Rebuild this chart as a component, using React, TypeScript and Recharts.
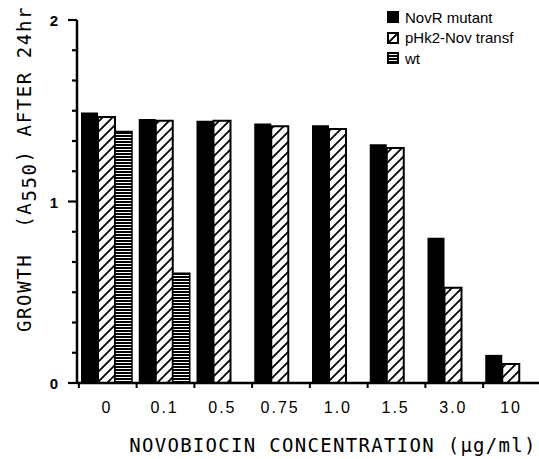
import { BarChart, Bar, XAxis, YAxis, Legend } from 'recharts'

// novobiocin concentration (µg/ml)
const categories = ['0', '0.1', '0.5', '0.75', '1.0', '1.5', '3.0', '10']
// growth, A550 after 24 hr
const novrMutant = [1.49, 1.455, 1.445, 1.43, 1.42, 1.315, 0.8, 0.155]
const pHk2Transf = [1.465, 1.445, 1.445, 1.415, 1.4, 1.295, 0.525, 0.105]
const wildType = [1.385, 0.605, null, null, null, null, null, null]

const yTicks = [0, 0.1667, 0.3333, 0.5, 0.6667, 0.8333, 1, 1.1667, 1.3333, 1.5, 1.6667, 1.8333, 2]
const seriesNames = ['NovR mutant', 'pHk2-Nov transf', 'wt']

const data = categories.map((name, i) => ({
  name,
  novr: novrMutant[i],
  phk2: pHk2Transf[i],
  wt: wildType[i],
}))

const MONO = '"DejaVu Sans Mono", monospace'
const SANS = '"Liberation Sans", Arial, sans-serif'

function Patterns() {
  return (
    <svg width={0} height={0} style={{ position: 'absolute' }}>
      <defs>
        <pattern id="hatch" patternUnits="userSpaceOnUse" width={10} height={10}>
          <rect width={10} height={10} fill="#fff" />
          <path d="M0,10 L10,0 M-1,1 L1,-1 M9,11 L11,9" stroke="#000" strokeWidth={1.8} />
        </pattern>
        <pattern id="stripes" patternUnits="userSpaceOnUse" width={6} height={3}>
          <rect width={6} height={3} fill="#fff" />
          <rect width={6} height={2} fill="#000" />
        </pattern>
      </defs>
    </svg>
  )
}

function YTick({ x, y, payload }: any) {
  const v = payload.value
  const major = Math.abs(v - Math.round(v)) < 0.01
  return (
    <g>
      <line x1={x - (major ? 9 : 5)} x2={x} y1={y} y2={y} stroke="#000" strokeWidth={2.2} />
      {major && (
        <text x={x - 19} y={y + 6} textAnchor="end" fontFamily={SANS} fontWeight="bold" fontSize={15} fill="#000">
          {Math.round(v)}
        </text>
      )}
    </g>
  )
}

function XTick({ x, y, payload }: any) {
  return (
    <g>
      <line x1={x - 27} x2={x - 27} y1={y} y2={y + 5} stroke="#000" strokeWidth={2} />
      <text x={x + 1} y={y + 30} textAnchor="middle" fontFamily={SANS} fontSize={16} letterSpacing={2} fill="#000">
        {payload.value}
      </text>
    </g>
  )
}

function YLabel() {
  return (
    <text
      x={31}
      y={169}
      transform="rotate(-90 31 169)"
      textAnchor="middle"
      fontFamily={MONO}
      fontSize={19}
      letterSpacing={1.6}
      fill="#000"
      style={{ whiteSpace: 'pre' }}
    >
      {'GROWTH  (A'}
      <tspan dy={5}>550</tspan>
      <tspan dy={-5}>{') AFTER 24hr'}</tspan>
    </text>
  )
}

function XLabel() {
  return (
    <text x={333} y={452} textAnchor="middle" fontFamily={MONO} fontSize={19} letterSpacing={1.3} fill="#000">
      NOVOBIOCIN CONCENTRATION (µg/ml)
    </text>
  )
}

function LegendSwatch({ index }: { index: number }) {
  if (index === 0) {
    return (
      <svg width={12} height={12}>
        <rect x={0} y={0} width={12} height={12} fill="#000" />
      </svg>
    )
  }
  if (index === 1) {
    return (
      <svg width={12} height={12}>
        <rect x={1} y={1} width={10} height={10} fill="#fff" stroke="#000" strokeWidth={2} />
        <line x1={1} y1={11} x2={11} y2={1} stroke="#000" strokeWidth={1.8} />
      </svg>
    )
  }
  return (
    <svg width={12} height={12}>
      <rect x={1} y={1} width={10} height={10} fill="url(#stripes)" stroke="#000" strokeWidth={2} />
    </svg>
  )
}

function LegendBox() {
  return (
    <div style={{ fontFamily: SANS, fontSize: 15, color: '#000' }}>
      {seriesNames.map((name, i) => (
        <div key={name} style={{ display: 'flex', alignItems: 'center', height: 20.5 }}>
          <LegendSwatch index={i} />
          <span style={{ marginLeft: 6 }}>{name}</span>
        </div>
      ))}
    </div>
  )
}

export default function App() {
  return (
    <div style={{ position: 'absolute', left: 0, top: 0, width: 539, height: 459, background: '#fff', overflow: 'hidden' }}>
      <Patterns />
      <BarChart
        width={539}
        height={459}
        data={data}
        margin={{ top: 20, right: 0, left: 0, bottom: 0 }}
        barCategoryGap={4}
        barGap={0}
      >
        <XAxis
          dataKey="name"
          height={76}
          interval={0}
          tickSize={0}
          tickMargin={0}
          tickLine={false}
          axisLine={{ stroke: '#000', strokeWidth: 2.5 }}
          tick={<XTick />}
          label={() => <XLabel />}
        />
        <YAxis
          width={77}
          domain={[0, 2]}
          ticks={yTicks}
          interval={0}
          tickSize={0}
          tickMargin={0}
          tickLine={false}
          axisLine={{ stroke: '#000', strokeWidth: 2.5 }}
          tick={<YTick />}
          label={() => <YLabel />}
        />
        <Legend
          layout="horizontal"
          verticalAlign="middle"
          align="center"
          wrapperStyle={{ top: 7, left: 387, width: 152 }}
          content={() => <LegendBox />}
        />
        <Bar dataKey="novr" name="NovR mutant" fill="#000" isAnimationActive={false} />
        <Bar dataKey="phk2" name="pHk2-Nov transf" fill="url(#hatch)" stroke="#000" strokeWidth={2} isAnimationActive={false} />
        <Bar dataKey="wt" name="wt" fill="url(#stripes)" stroke="#000" strokeWidth={1.5} isAnimationActive={false} />
      </BarChart>
    </div>
  )
}
